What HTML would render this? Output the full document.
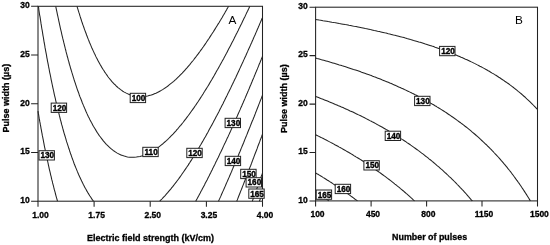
<!DOCTYPE html>
<html><head><meta charset="utf-8"><title>Contour plots</title>
<style>html,body{margin:0;padding:0;background:#fff}svg{display:block}</style>
</head><body>
<svg width="550" height="245" viewBox="0 0 550 245">
<rect width="550" height="245" fill="#fff"/>
<g fill="none" stroke="#222" stroke-width="1.05">
<path d="M77.0 6.3 L77.4 7.6 L77.8 8.9 L78.4 10.9 L78.8 12.2 L79.3 13.7 L79.8 15.4 L80.2 16.7 L80.8 18.5 L81.3 20.0 L81.7 21.3 L82.3 23.0 L82.8 24.6 L83.3 25.9 L83.8 27.3 L84.4 29.1 L84.9 30.4 L85.4 31.7 L86.1 33.5 L86.6 35.0 L87.1 36.3 L87.6 37.6 L88.3 39.4 L88.9 40.8 L89.4 42.2 L90.0 43.5 L90.6 44.9 L91.3 46.6 L91.9 48.0 L92.5 49.3 L93.1 50.6 L93.7 51.9 L94.3 53.3 L95.1 54.8 L95.8 56.4 L96.5 57.8 L97.2 59.1 L97.9 60.4 L98.6 61.7 L99.3 63.0 L100.0 64.3 L100.8 65.6 L101.5 66.9 L102.3 68.2 L103.1 69.5 L104.0 70.8 L104.8 72.1 L105.6 73.3 L106.3 74.3 L107.1 75.4 L108.0 76.7 L109.0 78.0 L110.1 79.3 L110.8 80.2 L111.7 81.3 L112.9 82.6 L113.8 83.6 L114.8 84.5 L116.1 85.8 L116.8 86.5 L118.3 87.8 L119.1 88.4 L120.6 89.6 L121.7 90.4 L122.8 91.2 L124.3 92.1 L125.8 92.9 L127.3 93.6 L128.7 94.3 L130.4 94.9 L131.9 95.4 L133.4 95.8 L135.4 96.3 L137.1 96.5 L139.4 96.7 L141.6 96.7 L143.9 96.6 L146.1 96.3 L147.6 96.0 L149.1 95.6 L151.3 95.0 L152.9 94.4 L154.4 93.8 L155.9 93.2 L157.4 92.5 L158.9 91.7 L160.2 91.0 L161.3 90.4 L162.6 89.6 L164.1 88.6 L165.4 87.8 L166.4 87.1 L167.9 86.0 L168.9 85.2 L170.1 84.2 L171.4 83.2 L172.4 82.4 L173.7 81.3 L174.7 80.4 L175.9 79.3 L176.9 78.3 L177.9 77.4 L179.2 76.2 L179.9 75.4 L181.2 74.1 L182.2 73.1 L183.1 72.1 L184.3 70.8 L185.2 69.8 L186.0 68.9 L187.2 67.6 L188.2 66.4 L188.9 65.6 L190.0 64.3 L191.0 63.0 L191.9 61.9 L192.7 61.0 L193.7 59.8 L194.7 58.4 L195.7 57.2 L196.4 56.2 L197.2 55.2 L198.2 53.9 L199.1 52.6 L200.1 51.3 L200.9 50.1 L201.7 49.1 L202.4 48.0 L203.4 46.7 L204.3 45.4 L205.2 44.1 L206.1 42.8 L206.9 41.5 L207.7 40.4 L208.4 39.3 L209.2 38.2 L210.0 36.9 L210.8 35.6 L211.7 34.3 L212.5 33.0 L213.4 31.7 L214.2 30.4 L215.0 29.1 L215.8 27.8 L216.6 26.5 L217.4 25.2 L218.2 23.9 L219.0 22.7 L219.7 21.5 L220.5 20.2 L221.2 19.0 L222.0 17.7 L222.7 16.4 L223.5 15.1 L224.2 13.9 L225.0 12.6 L225.7 11.3 L226.5 9.9 L227.2 8.6 L228.0 7.3 L228.5 6.3"/>
<path d="M55.7 6.3 L56.0 7.7 L56.4 9.6 L56.8 11.3 L57.1 12.8 L57.5 14.8 L57.8 16.1 L58.2 18.0 L58.5 19.3 L58.9 21.3 L59.2 22.6 L59.6 24.6 L59.9 25.9 L60.3 27.8 L60.6 29.1 L61.1 31.1 L61.4 32.4 L61.8 34.3 L62.1 35.6 L62.6 37.6 L62.9 38.9 L63.4 40.8 L63.7 42.2 L64.2 44.1 L64.5 45.4 L65.0 47.4 L65.3 48.7 L65.8 50.5 L66.1 51.9 L66.5 53.4 L67.0 55.2 L67.3 56.5 L67.9 58.4 L68.2 59.8 L68.8 61.7 L69.1 63.0 L69.5 64.5 L70.1 66.3 L70.4 67.6 L71.0 69.5 L71.4 70.8 L71.8 72.2 L72.4 74.1 L72.8 75.4 L73.3 77.1 L73.8 78.7 L74.2 80.0 L74.8 81.8 L75.3 83.2 L75.7 84.5 L76.3 86.3 L76.8 87.8 L77.2 89.1 L77.8 90.7 L78.4 92.3 L78.9 93.6 L79.3 95.0 L80.0 96.9 L80.6 98.2 L81.1 99.5 L81.6 100.8 L82.3 102.7 L82.9 104.1 L83.4 105.4 L84.0 106.7 L84.6 108.1 L85.3 109.8 L85.9 111.2 L86.5 112.5 L87.1 113.9 L87.7 115.2 L88.3 116.5 L89.1 117.9 L89.8 119.4 L90.6 120.9 L91.3 122.3 L92.0 123.6 L92.7 124.9 L93.4 126.2 L94.2 127.5 L95.0 128.8 L95.8 130.1 L96.6 131.4 L97.3 132.6 L98.1 133.7 L98.8 134.9 L99.6 136.0 L100.6 137.3 L101.6 138.6 L102.6 139.9 L103.3 140.9 L104.2 141.9 L105.3 143.2 L106.3 144.3 L107.2 145.1 L108.5 146.4 L109.3 147.2 L110.6 148.4 L111.6 149.2 L113.1 150.4 L114.0 151.0 L115.3 151.9 L116.8 152.9 L118.2 153.6 L119.5 154.3 L120.9 154.9 L122.6 155.6 L124.3 156.1 L125.8 156.5 L127.5 156.9 L129.6 157.2 L131.9 157.3 L134.1 157.3 L136.4 157.1 L137.9 156.8 L140.1 156.4 L141.6 156.0 L143.1 155.5 L144.7 154.9 L146.4 154.3 L147.8 153.6 L149.2 153.0 L150.6 152.2 L152.1 151.4 L153.6 150.5 L154.8 149.7 L155.9 149.0 L157.4 148.0 L158.6 147.1 L159.6 146.3 L161.1 145.1 L161.9 144.5 L163.4 143.3 L164.2 142.5 L165.6 141.3 L166.4 140.6 L167.8 139.3 L168.6 138.5 L169.8 137.3 L170.9 136.2 L171.7 135.4 L173.0 134.1 L173.9 133.1 L174.8 132.1 L176.0 130.8 L176.9 129.7 L177.7 128.8 L178.8 127.5 L179.9 126.2 L180.7 125.3 L181.5 124.3 L182.6 123.0 L183.6 121.7 L184.4 120.7 L185.2 119.7 L186.2 118.4 L187.1 117.1 L188.1 115.8 L188.9 114.7 L189.7 113.7 L190.5 112.5 L191.4 111.2 L192.4 109.9 L193.3 108.6 L194.2 107.4 L194.9 106.3 L195.7 105.2 L196.4 104.1 L197.3 102.8 L198.2 101.5 L199.0 100.2 L199.9 98.9 L200.7 97.6 L201.6 96.3 L202.4 95.0 L203.2 93.7 L203.9 92.5 L204.7 91.3 L205.4 90.1 L206.2 88.9 L206.9 87.7 L207.7 86.5 L208.5 85.2 L209.3 83.9 L210.0 82.6 L210.8 81.3 L211.6 80.0 L212.3 78.7 L213.1 77.4 L213.9 76.0 L214.6 74.7 L215.4 73.4 L216.1 72.1 L216.8 70.8 L217.6 69.5 L218.3 68.2 L219.0 66.9 L219.8 65.6 L220.5 64.3 L221.2 63.0 L222.0 61.6 L222.7 60.3 L223.5 58.9 L224.2 57.5 L225.0 56.1 L225.7 54.7 L226.5 53.3 L227.2 51.9 L227.9 50.6 L228.5 49.3 L229.2 48.0 L229.9 46.7 L230.6 45.4 L231.3 44.1 L231.9 42.8 L232.6 41.5 L233.3 40.2 L234.0 38.8 L234.7 37.3 L235.5 35.8 L236.2 34.3 L236.9 33.0 L237.5 31.7 L238.2 30.4 L238.8 29.1 L239.5 27.8 L240.1 26.5 L240.7 25.2 L241.5 23.7 L242.2 22.2 L243.0 20.6 L243.6 19.3 L244.2 18.0 L244.9 16.7 L245.5 15.4 L246.1 14.1 L246.7 12.8 L247.5 11.2 L248.2 9.7 L248.9 8.3 L249.5 7.0 L249.8 6.3"/>
<path d="M38.4 6.3 L38.7 8.3 L38.8 9.6 L39.1 11.5 L39.4 13.5 L39.6 14.8 L40.0 16.7 L40.3 18.6 L40.5 20.0 L40.8 21.9 L41.0 23.4 L41.3 25.2 L41.6 27.2 L41.8 28.5 L42.2 30.4 L42.5 32.4 L42.7 33.7 L43.0 35.6 L43.3 37.0 L43.6 38.9 L43.9 40.8 L44.1 42.2 L44.5 44.1 L44.8 45.8 L45.0 47.4 L45.4 49.3 L45.6 50.6 L46.0 52.6 L46.3 54.1 L46.6 55.8 L46.9 57.8 L47.2 59.1 L47.5 61.1 L47.8 62.4 L48.2 64.3 L48.5 66.2 L48.8 67.6 L49.2 69.5 L49.4 70.8 L49.8 72.8 L50.1 74.1 L50.5 76.0 L50.8 77.5 L51.1 79.3 L51.5 81.2 L51.8 82.6 L52.2 84.5 L52.5 85.8 L52.9 87.8 L53.2 89.1 L53.6 91.0 L53.9 92.3 L54.3 94.3 L54.6 95.6 L55.1 97.6 L55.4 98.9 L55.8 100.8 L56.1 102.1 L56.6 104.1 L56.9 105.4 L57.4 107.3 L57.7 108.6 L58.1 110.6 L58.5 111.9 L59.0 113.9 L59.3 115.2 L59.8 117.1 L60.1 118.4 L60.5 120.0 L61.0 121.7 L61.3 123.0 L61.8 124.9 L62.2 126.2 L62.7 128.2 L63.1 129.5 L63.5 131.0 L64.0 132.8 L64.4 134.1 L65.0 136.0 L65.4 137.3 L65.8 138.7 L66.3 140.6 L66.7 141.9 L67.3 143.6 L67.8 145.1 L68.2 146.4 L68.8 148.3 L69.3 149.7 L69.7 151.0 L70.3 152.8 L70.8 154.3 L71.3 155.6 L71.8 157.1 L72.4 158.8 L72.9 160.1 L73.4 161.4 L74.0 163.2 L74.6 164.7 L75.1 166.0 L75.6 167.3 L76.3 168.9 L77.0 170.6 L77.5 171.9 L78.1 173.2 L78.6 174.5 L79.3 176.0 L80.0 177.6 L80.7 179.0 L81.3 180.3 L81.9 181.6 L82.6 182.9 L83.2 184.3 L83.9 185.6 L84.6 186.9 L85.3 188.2 L86.1 189.6 L86.8 190.9 L87.6 192.2 L88.3 193.4 L89.1 194.7 L89.9 196.0 L90.8 197.3 L91.6 198.6 L92.5 199.9 L93.5 201.2"/>
<path d="M159.7 201.2 L161.0 199.9 L161.9 199.0 L162.9 197.9 L164.1 196.6 L164.9 195.8 L165.9 194.7 L167.0 193.4 L167.9 192.4 L168.7 191.4 L169.8 190.1 L170.9 188.8 L171.6 187.9 L172.5 186.9 L173.5 185.6 L174.5 184.3 L175.4 183.1 L176.2 182.2 L177.0 181.0 L178.0 179.7 L179.0 178.4 L179.9 177.1 L180.7 176.0 L181.4 175.0 L182.2 173.8 L183.1 172.5 L184.0 171.2 L184.9 169.9 L185.8 168.6 L186.7 167.3 L187.4 166.2 L188.2 165.1 L188.9 163.9 L189.7 162.7 L190.5 161.4 L191.4 160.1 L192.2 158.8 L193.0 157.5 L193.8 156.2 L194.6 154.9 L195.4 153.6 L196.2 152.3 L197.0 151.0 L197.8 149.7 L198.6 148.4 L199.4 147.1 L200.1 145.8 L200.9 144.5 L201.6 143.2 L202.4 141.9 L203.2 140.6 L203.9 139.3 L204.6 138.0 L205.4 136.7 L206.1 135.4 L206.8 134.1 L207.6 132.8 L208.3 131.5 L209.0 130.1 L209.7 128.8 L210.4 127.5 L211.1 126.2 L211.9 124.9 L212.6 123.6 L213.3 122.3 L213.9 121.0 L214.6 119.7 L215.3 118.4 L216.0 117.1 L216.7 115.8 L217.4 114.4 L218.2 112.9 L219.0 111.5 L219.7 110.0 L220.4 108.6 L221.1 107.3 L221.7 106.0 L222.4 104.7 L223.1 103.4 L223.7 102.1 L224.4 100.8 L225.0 99.5 L225.7 98.1 L226.5 96.6 L227.2 95.1 L227.9 93.6 L228.6 92.3 L229.2 91.0 L229.8 89.7 L230.5 88.4 L231.1 87.1 L231.7 85.8 L232.5 84.3 L233.2 82.7 L233.9 81.3 L234.5 80.0 L235.1 78.7 L235.8 77.4 L236.4 76.0 L237.0 74.7 L237.7 73.2 L238.5 71.6 L239.1 70.2 L239.7 68.9 L240.3 67.6 L240.9 66.3 L241.5 65.0 L242.2 63.4 L243.0 61.8 L243.6 60.4 L244.2 59.1 L244.8 57.8 L245.4 56.5 L246.0 55.2 L246.7 53.5 L247.5 51.9 L248.0 50.6 L248.6 49.3 L249.2 48.0 L249.8 46.7 L250.5 45.1 L251.2 43.5 L251.8 42.2 L252.4 40.8 L253.0 39.5 L253.5 38.2 L254.2 36.6 L255.0 35.0 L255.5 33.7 L256.1 32.4 L256.7 31.1 L257.2 29.7 L258.0 28.0 L258.6 26.5 L259.2 25.2 L259.7 23.9 L260.3 22.6 L261.0 21.0 L261.7 19.3 L262.3 18.0 L262.5 17.5"/>
<path d="M38.0 111.2 L38.3 113.2 L38.7 115.2 L38.9 116.5 L39.2 118.4 L39.5 119.9 L39.8 121.7 L40.2 123.6 L40.4 124.9 L40.8 126.9 L41.0 128.3 L41.4 130.1 L41.7 132.1 L42.0 133.4 L42.3 135.4 L42.6 136.7 L43.0 138.6 L43.3 140.2 L43.6 141.9 L44.0 143.8 L44.2 145.1 L44.6 147.1 L44.9 148.4 L45.3 150.4 L45.6 151.7 L46.0 153.6 L46.3 155.0 L46.7 156.9 L47.0 158.6 L47.4 160.1 L47.8 162.0 L48.1 163.4 L48.5 165.3 L48.8 166.7 L49.2 168.6 L49.5 169.9 L50.0 171.9 L50.3 173.2 L50.7 175.1 L51.1 176.4 L51.5 178.3 L51.8 179.7 L52.3 181.4 L52.6 182.9 L53.0 184.4 L53.5 186.2 L53.8 187.5 L54.3 189.5 L54.7 190.8 L55.2 192.7 L55.5 194.0 L56.0 195.9 L56.4 197.3 L56.8 198.6 L57.3 200.5 L57.5 201.2"/>
<path d="M195.7 201.2 L196.4 199.9 L197.2 198.5 L197.9 197.2 L198.7 195.8 L199.4 194.4 L200.2 193.0 L200.9 191.6 L201.7 190.2 L202.4 188.8 L203.1 187.5 L203.8 186.2 L204.5 184.9 L205.1 183.6 L205.8 182.3 L206.5 181.0 L207.2 179.7 L207.8 178.4 L208.5 177.1 L209.2 175.7 L209.9 174.2 L210.7 172.7 L211.4 171.2 L212.1 169.9 L212.7 168.6 L213.4 167.3 L214.0 166.0 L214.7 164.7 L215.3 163.4 L215.9 162.1 L216.7 160.5 L217.4 159.0 L218.2 157.5 L218.8 156.2 L219.4 154.9 L220.0 153.6 L220.7 152.3 L221.3 151.0 L222.0 149.6 L222.7 148.0 L223.4 146.4 L224.0 145.1 L224.6 143.8 L225.3 142.5 L225.9 141.2 L226.5 139.9 L227.2 138.3 L228.0 136.7 L228.6 135.4 L229.2 134.1 L229.8 132.8 L230.4 131.5 L231.0 130.1 L231.7 128.5 L232.4 126.9 L233.0 125.6 L233.6 124.3 L234.2 123.0 L234.8 121.7 L235.5 120.1 L236.2 118.4 L236.8 117.1 L237.4 115.8 L237.9 114.5 L238.5 113.2 L239.2 111.6 L240.0 109.9 L240.5 108.6 L241.1 107.3 L241.7 106.0 L242.2 104.7 L243.0 103.0 L243.6 101.5 L244.2 100.2 L244.8 98.9 L245.3 97.6 L246.0 96.0 L246.7 94.3 L247.3 93.0 L247.8 91.7 L248.4 90.4 L249.0 89.0 L249.7 87.2 L250.3 85.8 L250.9 84.5 L251.4 83.2 L252.0 81.8 L252.7 80.0 L253.3 78.7 L253.9 77.4 L254.4 76.0 L255.0 74.6 L255.7 72.8 L256.3 71.5 L256.8 70.2 L257.4 68.9 L258.0 67.4 L258.7 65.6 L259.2 64.3 L259.8 63.0 L260.3 61.7 L261.0 60.0 L261.6 58.4 L262.2 57.1 L262.5 56.3"/>
<path d="M218.5 201.2 L219.1 199.9 L219.7 198.6 L220.5 196.9 L221.2 195.3 L221.7 194.0 L222.3 192.7 L222.9 191.4 L223.5 190.1 L224.2 188.5 L224.9 186.9 L225.5 185.6 L226.0 184.3 L226.6 182.9 L227.2 181.6 L228.0 179.8 L228.6 178.4 L229.2 177.1 L229.7 175.8 L230.3 174.5 L231.0 172.9 L231.7 171.2 L232.2 169.9 L232.8 168.6 L233.3 167.3 L234.0 165.8 L234.7 164.0 L235.3 162.7 L235.8 161.4 L236.4 160.1 L237.0 158.7 L237.7 156.9 L238.3 155.6 L238.8 154.3 L239.3 153.0 L240.0 151.5 L240.7 149.7 L241.2 148.4 L241.8 147.1 L242.3 145.8 L243.0 144.2 L243.7 142.5 L244.2 141.2 L244.7 139.9 L245.2 138.6 L246.0 136.8 L246.6 135.4 L247.1 134.1 L247.6 132.8 L248.2 131.3 L248.9 129.5 L249.5 128.2 L250.0 126.9 L250.5 125.6 L251.2 123.8 L251.8 122.3 L252.3 121.0 L252.9 119.7 L253.5 118.2 L254.2 116.5 L254.7 115.2 L255.2 113.9 L255.7 112.5 L256.5 110.6 L257.0 109.3 L257.5 108.0 L258.0 106.7 L258.7 104.9 L259.3 103.4 L259.8 102.1 L260.3 100.8 L261.0 99.1 L261.6 97.6 L262.1 96.3 L262.5 95.2"/>
<path d="M236.7 201.2 L237.3 199.9 L237.8 198.6 L238.5 196.8 L239.1 195.3 L239.6 194.0 L240.1 192.7 L240.7 191.1 L241.4 189.5 L241.9 188.2 L242.4 186.9 L243.0 185.4 L243.7 183.6 L244.2 182.3 L244.7 181.0 L245.2 179.6 L246.0 177.7 L246.5 176.4 L247.0 175.1 L247.5 173.8 L248.2 171.9 L248.7 170.6 L249.2 169.3 L249.7 167.9 L250.5 166.0 L251.0 164.7 L251.5 163.4 L252.0 162.0 L252.7 160.1 L253.2 158.8 L253.7 157.5 L254.2 156.1 L254.9 154.3 L255.4 153.0 L255.9 151.7 L256.5 150.2 L257.2 148.4 L257.6 147.1 L258.1 145.8 L258.7 144.2 L259.4 142.5 L259.9 141.2 L260.3 139.9 L261.0 138.2 L261.6 136.7 L262.0 135.4 L262.5 134.1"/>
<path d="M252.3 201.2 L252.8 199.9 L253.5 198.0 L254.0 196.6 L254.5 195.3 L255.0 193.9 L255.7 192.1 L256.1 190.8 L256.6 189.5 L257.2 187.7 L257.8 186.2 L258.2 184.9 L258.7 183.5 L259.4 181.6 L259.9 180.3 L260.4 179.0 L261.0 177.2 L261.5 175.8 L262.0 174.5 L262.5 173.1"/>
<path d="M259.4 201.2 L259.9 199.9 L260.4 198.6 L261.0 196.8 L261.5 195.3 L262.0 194.0 L262.5 192.5"/>
<path d="M315.6 19.5 L317.1 19.7 L319.3 20.1 L320.8 20.3 L323.0 20.7 L324.5 20.9 L326.7 21.3 L328.2 21.6 L330.4 21.9 L331.9 22.2 L334.2 22.6 L335.6 22.8 L337.9 23.2 L339.3 23.5 L341.6 23.9 L343.1 24.2 L345.3 24.6 L346.8 24.8 L349.0 25.3 L350.5 25.5 L352.7 26.0 L354.2 26.3 L356.1 26.6 L357.9 27.0 L359.4 27.3 L361.6 27.7 L363.1 28.0 L365.3 28.5 L366.8 28.8 L368.8 29.2 L370.5 29.6 L372.0 29.9 L374.2 30.4 L375.7 30.7 L377.6 31.2 L379.4 31.6 L380.9 31.9 L383.1 32.4 L384.6 32.8 L386.1 33.1 L388.3 33.7 L389.8 34.0 L391.3 34.4 L393.5 35.0 L395.0 35.3 L396.5 35.7 L398.7 36.3 L400.2 36.7 L401.7 37.1 L403.9 37.6 L405.4 38.1 L406.9 38.5 L408.6 38.9 L410.6 39.5 L412.1 39.9 L413.6 40.4 L415.4 40.9 L417.3 41.4 L418.8 41.9 L420.2 42.3 L421.8 42.8 L423.9 43.5 L425.4 44.0 L426.9 44.4 L428.4 44.9 L429.9 45.4 L431.9 46.1 L433.6 46.6 L435.1 47.2 L436.6 47.7 L438.1 48.2 L439.5 48.7 L441.2 49.3 L443.0 50.0 L444.7 50.6 L446.2 51.2 L447.7 51.7 L449.2 52.3 L450.7 52.9 L452.2 53.5 L453.6 54.1 L455.1 54.7 L456.6 55.3 L458.1 55.9 L459.6 56.5 L461.1 57.2 L462.5 57.8 L464.0 58.5 L465.5 59.2 L467.0 59.8 L468.5 60.5 L470.0 61.2 L471.4 61.9 L472.9 62.6 L474.4 63.4 L475.9 64.1 L477.4 64.9 L478.6 65.5 L479.9 66.2 L481.1 66.8 L482.6 67.6 L484.1 68.4 L485.6 69.2 L487.0 70.0 L488.2 70.7 L489.3 71.3 L490.7 72.2 L492.2 73.1 L493.7 73.9 L494.7 74.6 L495.9 75.3 L497.4 76.3 L498.8 77.2 L499.8 77.8 L501.1 78.7 L502.6 79.7 L503.7 80.4 L504.8 81.2 L506.3 82.2 L507.4 83.0 L508.6 83.8 L510.0 84.9 L511.0 85.6 L512.3 86.6 L513.5 87.5 L514.5 88.3 L516.0 89.5 L516.8 90.1 L518.2 91.3 L519.2 92.1 L520.4 93.1 L521.5 94.0 L522.7 95.1 L523.7 96.0 L524.9 97.0 L525.8 97.9 L527.1 99.1 L527.9 99.8 L529.3 101.1 L530.1 101.9 L531.3 103.1 L532.3 104.1 L533.2 105.0 L534.5 106.3 L535.3 107.1 L536.4 108.3 L537.5 109.5"/>
<path d="M315.6 58.1 L317.1 58.5 L319.2 59.0 L320.8 59.5 L322.3 59.9 L323.8 60.3 L326.0 60.9 L327.5 61.3 L329.0 61.8 L330.6 62.3 L332.7 62.9 L334.2 63.3 L335.6 63.7 L337.2 64.2 L339.3 64.9 L340.8 65.3 L342.3 65.8 L343.8 66.2 L345.6 66.8 L347.5 67.4 L349.0 67.9 L350.5 68.4 L352.0 68.9 L353.5 69.4 L355.5 70.0 L357.2 70.6 L358.6 71.1 L360.1 71.6 L361.6 72.2 L363.1 72.7 L364.8 73.3 L366.6 73.9 L368.3 74.5 L369.8 75.1 L371.3 75.6 L372.7 76.2 L374.2 76.8 L375.7 77.3 L377.2 77.9 L378.7 78.5 L380.3 79.1 L381.9 79.8 L383.5 80.4 L385.1 81.1 L386.7 81.7 L388.3 82.3 L389.8 83.0 L391.3 83.6 L392.8 84.3 L394.3 84.9 L395.8 85.6 L397.2 86.2 L398.7 86.9 L400.2 87.5 L401.6 88.2 L403.0 88.8 L404.4 89.5 L405.8 90.1 L407.1 90.8 L408.5 91.4 L409.9 92.1 L411.3 92.8 L412.8 93.6 L414.3 94.3 L415.8 95.1 L417.3 95.8 L418.8 96.6 L420.0 97.2 L421.2 97.9 L422.5 98.6 L424.0 99.4 L425.4 100.2 L426.9 101.0 L428.3 101.8 L429.5 102.4 L430.6 103.1 L432.1 104.0 L433.6 104.8 L435.0 105.7 L436.1 106.3 L437.3 107.1 L438.8 108.0 L440.3 108.9 L441.4 109.6 L442.5 110.3 L444.0 111.2 L445.4 112.1 L446.4 112.8 L447.7 113.7 L449.2 114.7 L450.3 115.4 L451.4 116.2 L452.9 117.2 L454.0 118.0 L455.1 118.8 L456.6 119.8 L457.6 120.6 L458.8 121.5 L460.2 122.5 L461.1 123.2 L462.5 124.2 L463.7 125.1 L464.8 126.0 L466.1 127.0 L467.0 127.7 L468.5 128.9 L469.4 129.6 L470.7 130.7 L471.7 131.6 L472.9 132.6 L474.0 133.5 L475.2 134.5 L476.3 135.5 L477.4 136.4 L478.5 137.4 L479.6 138.4 L480.6 139.4 L481.8 140.5 L482.7 141.3 L484.1 142.6 L484.8 143.3 L486.1 144.5 L487.0 145.4 L488.1 146.5 L489.3 147.6 L490.0 148.4 L491.3 149.7 L492.2 150.7 L493.2 151.7 L494.4 153.0 L495.2 153.8 L496.2 154.9 L497.4 156.2 L498.2 157.0 L499.2 158.1 L500.3 159.4 L501.1 160.4 L502.0 161.4 L503.1 162.7 L504.1 163.9 L504.8 164.7 L505.8 165.9 L506.9 167.2 L507.8 168.4 L508.6 169.3 L509.5 170.5 L510.5 171.7 L511.5 173.0 L512.3 174.1 L513.0 175.0 L513.9 176.3 L514.9 177.6 L515.8 178.9 L516.7 180.1 L517.5 181.1 L518.2 182.2 L519.1 183.4 L520.0 184.7 L520.9 186.0 L521.7 187.3 L522.6 188.6 L523.4 189.8 L524.1 190.9 L524.9 192.1 L525.6 193.2 L526.4 194.4 L527.2 195.7 L528.0 197.0 L528.8 198.3 L529.6 199.6 L530.4 200.9"/>
<path d="M315.6 96.5 L317.1 97.0 L318.6 97.6 L320.1 98.2 L321.5 98.8 L323.0 99.3 L324.5 99.9 L326.0 100.5 L327.5 101.1 L329.1 101.8 L330.7 102.4 L332.3 103.1 L333.8 103.7 L335.4 104.4 L336.9 105.0 L338.4 105.7 L339.9 106.3 L341.4 107.0 L342.9 107.6 L344.4 108.3 L345.8 108.9 L347.3 109.6 L348.7 110.2 L350.1 110.9 L351.5 111.5 L352.9 112.1 L354.3 112.8 L355.7 113.5 L357.2 114.2 L358.6 114.9 L360.1 115.6 L361.6 116.3 L363.1 117.1 L364.6 117.8 L366.1 118.6 L367.4 119.3 L368.7 119.9 L369.9 120.6 L371.3 121.3 L372.7 122.1 L374.2 122.8 L375.7 123.6 L377.2 124.5 L378.4 125.1 L379.5 125.8 L380.9 126.5 L382.4 127.3 L383.9 128.2 L385.3 129.0 L386.4 129.6 L387.6 130.3 L389.1 131.2 L390.6 132.1 L391.8 132.9 L392.9 133.5 L394.3 134.4 L395.8 135.3 L397.1 136.1 L398.1 136.8 L399.5 137.6 L400.9 138.6 L402.1 139.4 L403.2 140.0 L404.7 141.0 L406.1 141.9 L407.0 142.6 L408.4 143.5 L409.9 144.5 L410.8 145.2 L412.1 146.1 L413.6 147.1 L414.5 147.8 L415.8 148.7 L417.2 149.7 L418.1 150.4 L419.5 151.4 L420.7 152.3 L421.7 153.1 L423.2 154.2 L424.1 154.9 L425.4 156.0 L426.6 156.8 L427.7 157.7 L429.0 158.8 L429.9 159.5 L431.4 160.7 L432.2 161.4 L433.6 162.5 L434.6 163.3 L435.8 164.4 L436.8 165.3 L438.1 166.3 L439.1 167.2 L440.3 168.3 L441.3 169.2 L442.5 170.2 L443.5 171.1 L444.7 172.3 L445.6 173.0 L447.0 174.3 L447.7 175.0 L449.0 176.3 L449.9 177.1 L451.1 178.2 L452.2 179.3 L453.1 180.2 L454.4 181.5 L455.1 182.2 L456.3 183.4 L457.3 184.5 L458.2 185.4 L459.4 186.6 L460.3 187.6 L461.3 188.6 L462.5 189.9 L463.3 190.7 L464.3 191.8 L465.5 193.1 L466.3 194.0 L467.2 195.1 L468.3 196.4 L469.2 197.4 L470.0 198.3 L471.1 199.6 L472.2 200.8 L472.2 200.9"/>
<path d="M315.6 134.8 L317.1 135.5 L318.4 136.1 L319.7 136.8 L321.0 137.4 L322.3 138.1 L323.8 138.8 L325.2 139.6 L326.7 140.3 L328.2 141.1 L329.7 141.9 L331.1 142.6 L332.3 143.2 L333.5 143.9 L334.9 144.7 L336.4 145.5 L337.9 146.3 L339.3 147.1 L340.6 147.8 L341.7 148.4 L343.1 149.2 L344.5 150.0 L346.0 150.9 L347.4 151.7 L348.5 152.3 L349.7 153.0 L351.2 153.9 L352.7 154.8 L353.9 155.6 L355.0 156.2 L356.4 157.1 L357.9 158.0 L359.2 158.8 L360.2 159.4 L361.6 160.3 L363.1 161.3 L364.3 162.0 L365.3 162.7 L366.8 163.7 L368.2 164.6 L369.2 165.3 L370.5 166.2 L372.0 167.2 L373.0 167.9 L374.2 168.7 L375.7 169.7 L376.7 170.5 L377.9 171.3 L379.4 172.4 L380.4 173.0 L381.7 174.0 L383.1 175.0 L383.9 175.6 L385.4 176.7 L386.6 177.6 L387.6 178.4 L389.1 179.5 L390.0 180.2 L391.3 181.2 L392.5 182.1 L393.5 182.9 L394.9 184.1 L395.8 184.7 L397.2 185.9 L398.1 186.6 L399.5 187.7 L400.5 188.6 L401.7 189.6 L402.8 190.5 L403.9 191.4 L405.1 192.5 L406.1 193.4 L407.4 194.4 L408.4 195.3 L409.6 196.4 L410.6 197.3 L411.8 198.3 L412.8 199.3 L413.9 200.3 L414.6 200.9"/>
<path d="M315.6 172.9 L316.9 173.7 L318.0 174.3 L319.3 175.1 L320.8 176.0 L322.3 176.9 L323.3 177.6 L324.5 178.3 L326.0 179.2 L327.5 180.2 L328.5 180.8 L329.7 181.6 L331.2 182.5 L332.5 183.4 L333.5 184.1 L334.9 185.0 L336.4 186.0 L337.4 186.6 L338.6 187.4 L340.1 188.5 L341.2 189.2 L342.3 190.0 L343.8 191.0 L345.0 191.8 L346.0 192.6 L347.5 193.6 L348.6 194.4 L349.7 195.2 L351.2 196.3 L352.2 197.0 L353.4 197.9 L354.8 199.0 L355.7 199.6 L357.2 200.7 L357.4 200.9"/>
<path d="M315.6 191.9 L317.1 192.9 L318.5 193.8 L319.4 194.4 L320.8 195.3 L322.3 196.3 L323.3 197.0 L324.5 197.8 L326.0 198.8 L327.1 199.6 L328.2 200.4 L329.0 200.9"/>
<rect x="38.0" y="6.3" width="224.5" height="194.9"/>
<rect x="315.6" y="7.2" width="221.9" height="193.7"/>
<path d="M31.1 6.3H38.0M38.0 201.2V206.8M31.1 55.0H38.0M94.1 201.2V206.8M31.1 103.7H38.0M150.2 201.2V206.8M31.1 152.5H38.0M206.4 201.2V206.8M31.1 201.2H38.0M262.5 201.2V206.8"/>
<path d="M309.5 7.2H315.6M315.6 200.9V206.5M309.5 55.6H315.6M371.1 200.9V206.5M309.5 104.1H315.6M426.6 200.9V206.5M309.5 152.5H315.6M482.0 200.9V206.5M309.5 200.9H315.6M537.5 200.9V206.5"/>
</g>
<g font-family="'Liberation Sans', sans-serif" font-weight="bold" font-size="8.2" text-anchor="middle" fill="#000" stroke="#000" stroke-width="0.35">
<rect x="130.2" y="93.3" width="15.4" height="9.3" fill="#fff" stroke="#222" stroke-width="1"/><text x="138.6" y="101.0">100</text>
<rect x="142.8" y="147.3" width="15.4" height="9.3" fill="#fff" stroke="#222" stroke-width="1"/><text x="151.1" y="155.0">110</text>
<rect x="186.8" y="148.3" width="15.4" height="9.3" fill="#fff" stroke="#222" stroke-width="1"/><text x="195.1" y="156.0">120</text>
<rect x="225.1" y="118.3" width="15.4" height="9.3" fill="#fff" stroke="#222" stroke-width="1"/><text x="233.4" y="126.0">130</text>
<rect x="225.2" y="156.3" width="15.4" height="9.3" fill="#fff" stroke="#222" stroke-width="1"/><text x="233.6" y="164.0">140</text>
<rect x="240.7" y="169.3" width="15.4" height="9.3" fill="#fff" stroke="#222" stroke-width="1"/><text x="249.0" y="177.0">150</text>
<rect x="246.1" y="177.7" width="15.4" height="9.3" fill="#fff" stroke="#222" stroke-width="1"/><text x="254.4" y="185.3">160</text>
<rect x="248.8" y="189.0" width="15.4" height="9.3" fill="#fff" stroke="#222" stroke-width="1"/><text x="257.1" y="196.7">165</text>
<rect x="51.2" y="103.1" width="15.4" height="9.3" fill="#fff" stroke="#222" stroke-width="1"/><text x="59.6" y="110.8">120</text>
<rect x="39.0" y="150.7" width="15.4" height="9.3" fill="#fff" stroke="#222" stroke-width="1"/><text x="47.3" y="158.3">130</text>
<rect x="439.6" y="46.4" width="15.4" height="9.3" fill="#fff" stroke="#222" stroke-width="1"/><text x="448.0" y="54.0">120</text>
<rect x="414.6" y="96.3" width="15.4" height="9.3" fill="#fff" stroke="#222" stroke-width="1"/><text x="422.9" y="104.0">130</text>
<rect x="385.2" y="131.2" width="15.4" height="9.3" fill="#fff" stroke="#222" stroke-width="1"/><text x="393.6" y="138.9">140</text>
<rect x="363.9" y="160.7" width="15.4" height="9.3" fill="#fff" stroke="#222" stroke-width="1"/><text x="372.3" y="168.3">150</text>
<rect x="335.2" y="184.3" width="15.4" height="9.3" fill="#fff" stroke="#222" stroke-width="1"/><text x="343.6" y="192.0">160</text>
<rect x="316.2" y="190.0" width="15.4" height="9.3" fill="#fff" stroke="#222" stroke-width="1"/><text x="324.6" y="197.7">165</text>
</g>
<g font-family="'Liberation Sans', sans-serif" font-weight="bold" font-size="8.5" fill="#000" stroke="#000" stroke-width="0.3">
<text x="29.7" y="8.1" text-anchor="end">30</text><text x="29.7" y="56.8" text-anchor="end">25</text><text x="29.7" y="105.5" text-anchor="end">20</text><text x="29.7" y="154.3" text-anchor="end">15</text><text x="29.7" y="203.0" text-anchor="end">10</text>
<text x="307.8" y="9.0" text-anchor="end">30</text><text x="307.8" y="57.4" text-anchor="end">25</text><text x="307.8" y="105.9" text-anchor="end">20</text><text x="307.8" y="154.3" text-anchor="end">15</text><text x="307.8" y="202.7" text-anchor="end">10</text>
<text x="40.5" y="217.6" text-anchor="middle">1.00</text><text x="96.6" y="217.6" text-anchor="middle">1.75</text><text x="152.8" y="217.6" text-anchor="middle">2.50</text><text x="208.9" y="217.6" text-anchor="middle">3.25</text><text x="265.0" y="217.6" text-anchor="middle">4.00</text>
<text x="317.5" y="217.3" text-anchor="middle">100</text><text x="373.0" y="217.3" text-anchor="middle">450</text><text x="428.4" y="217.3" text-anchor="middle">800</text><text x="483.9" y="217.3" text-anchor="middle">1150</text><text x="539.4" y="217.3" text-anchor="middle">1500</text>
<text x="150.6" y="241.1" text-anchor="middle" font-size="9">Electric field strength (kV/cm)</text>
<text x="429.6" y="240.4" text-anchor="middle" font-size="8.9">Number of pulses</text>
<text transform="translate(9.4,98.2) rotate(-90)" text-anchor="middle" font-size="9">Pulse width (µs)</text>
<text transform="translate(287.4,98.6) rotate(-90)" text-anchor="middle" font-size="9">Pulse width (µs)</text>
</g>
<g font-family="'Liberation Sans', sans-serif" font-size="11.8" fill="#000" text-anchor="middle">
<text x="232.5" y="23.8">A</text><text x="519" y="24.3">B</text></g>
</svg>
</body></html>
